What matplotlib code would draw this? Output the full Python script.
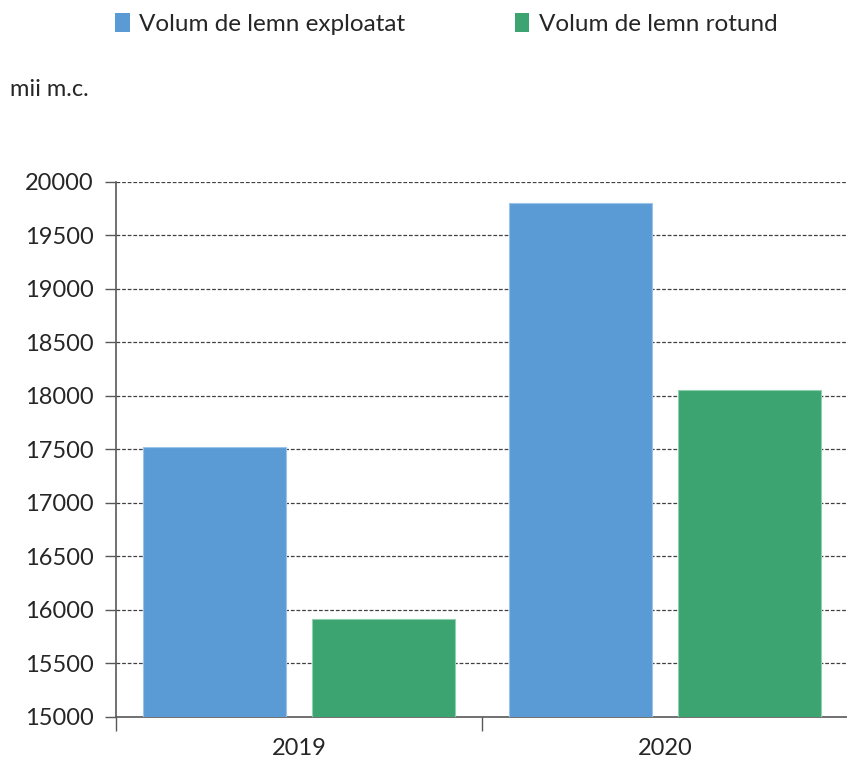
import matplotlib
matplotlib.use("Agg")
import matplotlib.pyplot as plt
import numpy as np
from matplotlib.patches import Patch

plt.rcParams['font.family'] = ['Lato', 'DejaVu Sans']

categories = ["2019", "2020"]
series_names = ["Volum de lemn exploatat", "Volum de lemn rotund"]
exploatat = [17525, 19800]
rotund = [15915, 18055]
yticks = [15000, 15500, 16000, 16500, 17000, 17500, 18000, 18500, 19000, 19500, 20000]
colors = ["#5B9BD5", "#3BA470"]

fig = plt.figure(figsize=(8.47, 7.65), dpi=100)
ax = fig.add_axes([116/847, 1-717/765, (848-116)/847, (717-182)/765])

x = np.arange(len(categories))
w = 0.39
off = 0.23
ax.bar(x - off, exploatat, width=w, bottom=0, color=colors[0], edgecolor="#9cc3e8", linewidth=0.8, zorder=3)
ax.bar(x + off, rotund, width=w, bottom=0, color=colors[1], edgecolor="#8fd0ae", linewidth=0.8, zorder=3)

ax.set_ylim(15000, 20000)
ax.set_xlim(-0.5, 1.5)
ax.set_yticks(yticks)
ax.set_yticklabels([str(v) for v in yticks], fontsize=17, color="#262626")
ax.yaxis.grid(True, linestyle=(0, (3, 1.5)), color="#404040", linewidth=0.9, zorder=0)
ax.set_axisbelow(True)

ax.set_xticks(x)
ax.set_xticklabels(categories, fontsize=17, color="#262626")
ax.tick_params(axis='x', which='major', length=0, pad=15)
ax.set_xticks([-0.5, 0.5, 1.5], minor=True)
ax.tick_params(axis='x', which='minor', length=10, width=1, color="#595959", direction='out')
ax.tick_params(axis='y', length=8, width=1, color="#595959", direction='out', pad=8)

for s in ["top", "right"]:
    ax.spines[s].set_visible(False)
for s in ["left", "bottom"]:
    ax.spines[s].set_color("#595959")
    ax.spines[s].set_linewidth(1.2)

fig.text(10/847, 1-90/765, "mii m.c.", fontsize=17, color="#262626", va="center", ha="left")

handles = [Patch(facecolor=colors[0]), Patch(facecolor=colors[1])]
fig.legend(handles, series_names, loc="center", bbox_to_anchor=(0.527, 1-24/765), ncol=2,
           frameon=False, fontsize=17.5, handlelength=0.6, handleheight=0.8, handletextpad=0.4,
           columnspacing=4.5, labelcolor="#262626")

fig.savefig("out.png", dpi=100)
